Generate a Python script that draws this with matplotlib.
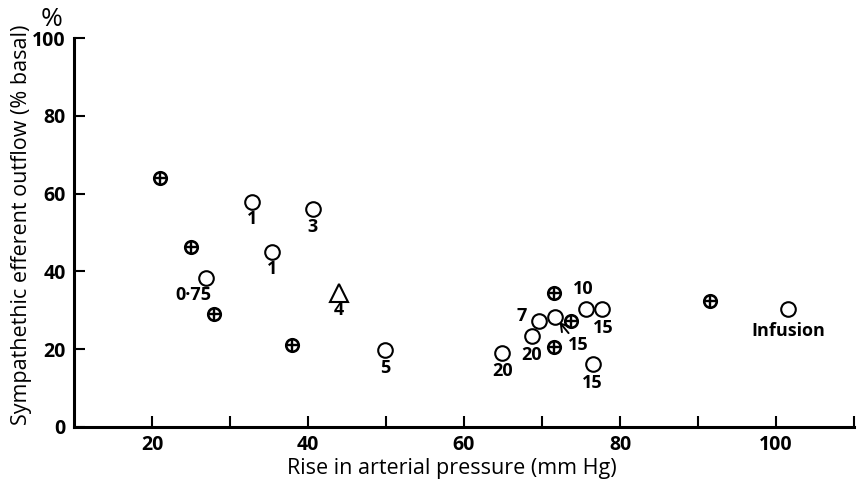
import matplotlib.pyplot as plt

# crossed circles (no label)
cross_x = [21, 25, 28, 38, 71.5, 71.5, 73.7, 91.5]
cross_y = [64, 46.3, 29, 21.1, 34.4, 20.6, 27.2, 32.5]

# open circles with their labels
circ_x = [32.8, 35.4, 40.6, 26.9, 49.9, 64.9, 68.7, 69.6, 71.7, 75.6, 77.7, 76.5, 101.5]
circ_y = [57.8, 45, 56, 38.3, 19.8, 19, 23.4, 27.2, 28.3, 30.3, 30.3, 16.2, 30.3]
circ_lbl = ['1', '1', '3', '0·75', '5', '20', '20', '7', '15', '10', '15', '15', 'Infusion']

# triangle
tri_x = [44]
tri_y = [34.4]
tri_lbl = ['4']

# label offsets in pixels (layout only)
circ_off = [(0, -17), (0, -17), (0, -18), (-12, -17), (0, -18), (0, -18), (0, -19),
            (-17, 5), (23, -28), (-2, 20), (1, -19), (0, -19), (1, -22)]
tri_off = [(0, -17)]

plt.rcParams['font.family'] = ['Open Sans', 'DejaVu Sans']

fig = plt.figure(figsize=(8.58, 4.79), dpi=100)
ax = fig.add_axes([74 / 858, 1 - 427 / 479, 780 / 858, 389 / 479])

ax.plot(cross_x, cross_y, 'o', ms=9, mfc='white', mec='black', mew=1.9, ls='none')
ax.plot(cross_x, cross_y, '+', ms=9, mec='black', mew=1.7, ls='none')
ax.plot(circ_x, circ_y, 'o', ms=10.5, mfc='white', mec='black', mew=1.5, ls='none')
ax.plot(tri_x, tri_y, '^', ms=13, mfc='white', mec='black', mew=1.5, ls='none')

for x, y, s, off in zip(circ_x, circ_y, circ_lbl, circ_off):
    if off == (23, -28):
        ax.annotate(s, (x, y), xytext=off, textcoords='offset pixels',
                    ha='center', va='center', fontsize=13, fontweight='bold',
                    arrowprops=dict(arrowstyle='->,head_width=0.25,head_length=0.4',
                                    lw=1.4, color='black', shrinkA=0, shrinkB=5))
    else:
        ax.annotate(s, (x, y), xytext=off, textcoords='offset pixels',
                    ha='center', va='center', fontsize=13, fontweight='bold')
for x, y, s, off in zip(tri_x, tri_y, tri_lbl, tri_off):
    ax.annotate(s, (x, y), xytext=off, textcoords='offset pixels',
                ha='center', va='center', fontsize=13, fontweight='bold')

ax.set_xlim(10, 110)
ax.set_ylim(0, 100)
ax.set_xticks(range(20, 111, 10))
ax.set_xticklabels(['20', '', '40', '', '60', '', '80', '', '100', ''])
ax.set_yticks(range(0, 101, 20))
ax.tick_params(direction='in', length=8, width=1.5, labelsize=14, pad=6)
for lab in ax.get_xticklabels() + ax.get_yticklabels():
    lab.set_fontweight('bold')

for side in ['top', 'right']:
    ax.spines[side].set_visible(False)
for side in ['left', 'bottom']:
    ax.spines[side].set_linewidth(2.2)

fig.text(452 / 858, 1 - 474 / 479, 'Rise in arterial pressure (mm Hg)',
         ha='center', va='baseline', fontsize=15.5)
fig.text(22 / 858, 1 - 225 / 479, 'Sympathethic efferent outflow (% basal)',
         ha='center', va='center', rotation=90, fontsize=15.5)
fig.text(52 / 858, 1 - 20 / 479, '%', ha='center', va='center', fontsize=19)

fig.savefig('out.png', dpi=100)
